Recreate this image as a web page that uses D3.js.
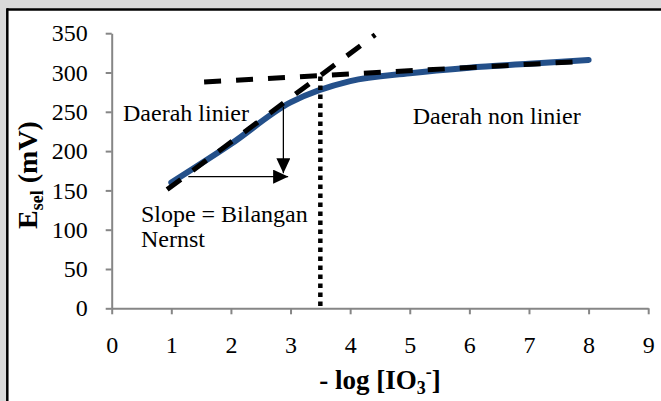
<!DOCTYPE html>
<html>
<head>
<meta charset="utf-8">
<script src="https://cdn.jsdelivr.net/npm/d3@7"></script>
<style>
  body { margin: 0; background: #ffffff; }
  svg { display: block; font-family: "Liberation Serif", "Times New Roman", serif; }
</style>
</head>
<body>
<div id="chart"></div>
<script>
// Measured potential of the electrode vs -log[IO3-]
var xValues = [1, 2, 3, 4, 5, 6, 7, 8];
var eValues = [160, 209, 262, 289, 299, 306, 311, 316];

var xTicks = d3.range(0, 10, 1);
var yTicks = d3.range(0, 351, 50);

// Tangent lines (two ends each, in data units)
var linearFit = [[0.93, 151], [4.42, 348]];
var plateauFit = [[1.55, 288], [7.87, 314]];

// Break point where the tangents meet
var breakX = 3.5;
var breakTop = 295;

// Slope triangle arrows
var arrowDown = [[2.88, 256.6], [2.88, 171.8]];
var arrowRight = [[1.285, 167.5], [2.96, 167.5]];

// Annotation texts
var labels = [
    { text: "Daerah linier", x: 0.19, y: 238.8 },
    { text: "Daerah non linier", x: 5.05, y: 234.6 },
    { text: "Slope = Bilangan", x: 0.49, y: 110 },
    { text: "Nernst", x: 0.49, y: 78 }
];

const W = 661, H = 401;
const serif = "'Liberation Serif', 'Times New Roman', serif";

var svg = d3.select("#chart")
    .append("svg")
    .attr("width", W)
    .attr("height", H);

// grey page behind the chart box
svg.append("rect").attr("x", 0).attr("y", 0).attr("width", W).attr("height", H).style("fill", "#d9d9d9");
svg.append("rect").attr("x", 7).attr("y", 9.5).attr("width", W).attr("height", H).style("fill", "#ffffff");
svg.append("line").attr("x1", 7).attr("y1", 9.5).attr("x2", W).attr("y2", 9.5)
    .style("stroke", "#000").style("stroke-width", 2.5);
svg.append("line").attr("x1", 7.3).attr("y1", 8.3).attr("x2", 7.3).attr("y2", H)
    .style("stroke", "#000").style("stroke-width", 2.5);

var x = d3.scaleLinear().domain([0, 9]).range([111.7, 648.2]);
var y = d3.scaleLinear().domain([0, 350]).range([308.3, 33.2]);

// Axes
var xAxis = svg.append("g")
    .attr("transform", `translate(0,${y(0)})`)
    .call(d3.axisBottom(x).tickValues(xTicks).tickSize(6).tickSizeOuter(0).tickPadding(22));
var yAxis = svg.append("g")
    .attr("transform", `translate(${x(0)},0)`)
    .call(d3.axisLeft(y).tickValues(yTicks).tickSize(6).tickSizeOuter(0).tickPadding(18));

[xAxis, yAxis].forEach(g => {
    g.attr("font-family", serif);
    g.select(".domain").style("stroke", "#868686").style("stroke-width", 2);
    g.selectAll(".tick line").style("stroke", "#868686").style("stroke-width", 2);
    g.selectAll(".tick text")
        .style("font-family", serif)
        .style("font-size", "24px")
        .style("fill", "#000");
});

// Data curve
var line = d3.line()
    .x((d, i) => x(xValues[i]))
    .y(d => y(d))
    .curve(d3.curveCatmullRom.alpha(0.5));

svg.append("path")
    .datum(eValues)
    .attr("d", line)
    .style("fill", "none")
    .style("stroke", "#24508a")
    .style("stroke-width", 6)
    .style("stroke-linecap", "round")
    .style("stroke-linejoin", "round");

// Tangent lines
var straight = d3.line().x(d => x(d[0])).y(d => y(d[1]));
[linearFit, plateauFit].forEach(seg => {
    svg.append("path")
        .attr("d", straight(seg))
        .style("fill", "none")
        .style("stroke", "#000")
        .style("stroke-width", 5)
        .style("stroke-dasharray", "17,15");
});

// Dotted drop line at the break point
svg.append("line")
    .attr("x1", x(breakX)).attr("y1", y(breakTop))
    .attr("x2", x(breakX)).attr("y2", y(0))
    .style("stroke", "#000")
    .style("stroke-width", 4.5)
    .style("stroke-dasharray", "4.5,4.5");

// Arrow head marker
svg.append("defs").append("marker")
    .attr("id", "head")
    .attr("viewBox", "0 0 15 14")
    .attr("refX", 15).attr("refY", 7)
    .attr("markerWidth", 15).attr("markerHeight", 14)
    .attr("markerUnits", "userSpaceOnUse")
    .attr("orient", "auto")
    .append("path")
    .attr("d", "M0,0L15,7L0,14Z")
    .style("fill", "#000");

[arrowDown, arrowRight].forEach(seg => {
    svg.append("path")
        .attr("d", straight(seg))
        .style("fill", "none")
        .style("stroke", "#000")
        .style("stroke-width", 1.3)
        .attr("marker-end", "url(#head)");
});

// Annotations
labels.forEach(l => {
    svg.append("text")
        .attr("x", x(l.x))
        .attr("y", y(l.y))
        .style("font-family", serif)
        .style("font-size", "24px")
        .style("fill", "#000")
        .text(l.text);
});

// Axis titles
var xt = svg.append("text")
    .attr("x", (x(0) + x(9)) / 2)
    .attr("y", 389)
    .attr("text-anchor", "middle")
    .style("font-family", serif)
    .style("font-size", "27px")
    .style("font-weight", "bold");
xt.append("tspan").text("- log [IO");
xt.append("tspan").attr("dy", 5).style("font-size", "18px").text("3");
xt.append("tspan").attr("dy", -16).style("font-size", "18px").text("-");
xt.append("tspan").attr("dy", 11).text("]");

var yt = svg.append("text")
    .attr("transform", "translate(37,175) rotate(-90)")
    .attr("text-anchor", "middle")
    .style("font-family", serif)
    .style("font-size", "28px")
    .style("font-weight", "bold");
yt.append("tspan").text("E");
yt.append("tspan").attr("dy", 6).style("font-size", "18px").text("sel");
yt.append("tspan").attr("dy", -6).text(" (mV)");
</script>
</body>
</html>
